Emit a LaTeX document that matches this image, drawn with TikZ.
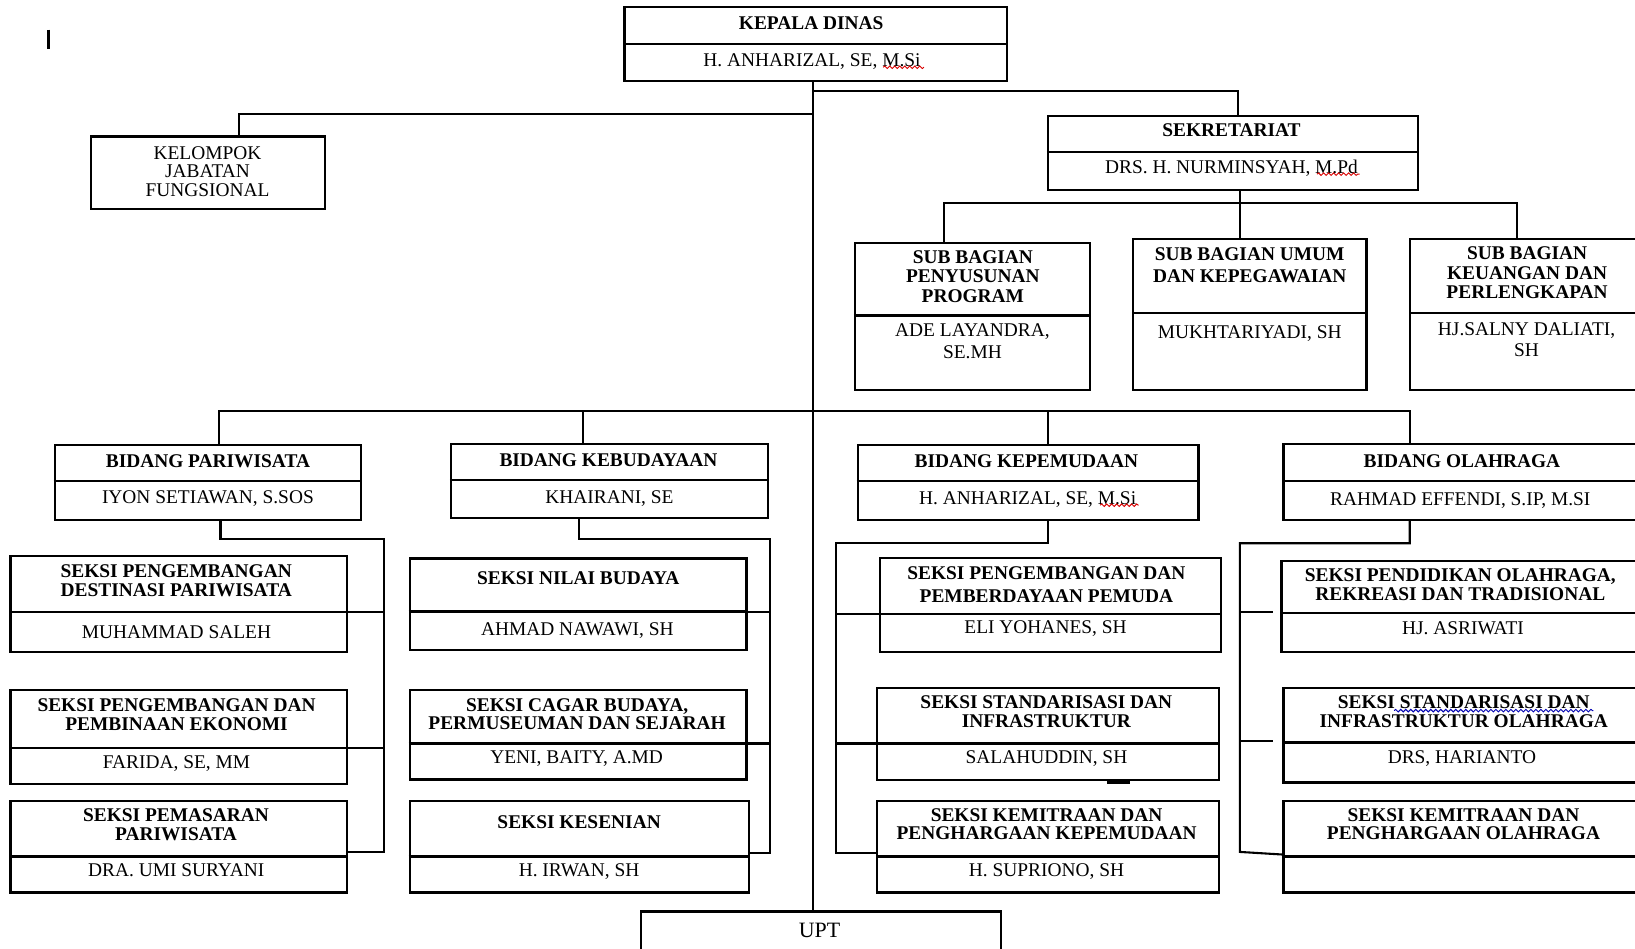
\documentclass[tikz,border=0pt]{standalone}
\usepackage{fontspec}
\setmainfont{Liberation Serif}
\usetikzlibrary{fit,calc,decorations.pathmorphing}
\begin{document}
\begin{tikzpicture}[x=0.5pt,y=-0.5pt,
  obox/.style={draw, line width=1.1pt, inner sep=0pt},
  div/.style={line width=1.1pt},
  conn/.style={line width=1pt},
  hdone/.style={font=\fontsize{9.3}{9}\selectfont\bfseries, inner sep=0pt, text height=6.2pt, text depth=0pt},
  hdmul/.style={font=\fontsize{9.3}{9}\selectfont\bfseries, align=center, inner sep=0pt},
  nmone/.style={font=\fontsize{9.3}{9}\selectfont, inner sep=0pt, text height=6.2pt, text depth=0pt},
  nmmul/.style={font=\fontsize{9.3}{9}\selectfont, align=center, inner sep=0pt},
  spell/.style={red!85!black, line width=0.45pt, decorate, decoration={snake, amplitude=0.6pt, segment length=2.4pt}},
  spellb/.style={blue!70!black, line width=0.45pt, decorate, decoration={snake, amplitude=0.6pt, segment length=2.4pt}},
]
\clip (0,0) rectangle (1568,910);
\fill[white] (0,0) rectangle (1568,910);

% ---------- boxes ----------
\node[obox, fit={(599,7) (966,78)}] (kd) {};
\node[obox, fit={(87,131) (312,200.5)}] (kjf) {};
\node[obox, fit={(1005,111) (1360,182)}] (sek) {};
\node[obox, fit={(820,233) (1045,374)}] (sbp) {};
\node[obox, fit={(1086.5,229.5) (1310.5,374)}] (sbu) {};
\node[obox, fit={(1352.5,229.5) (1578,374)}] (sbk) {};
\node[obox, fit={(52.5,427) (346.5,498.5)}] (bp) {};
\node[obox, fit={(432.5,425.5) (736.5,497)}] (bk) {};
\node[obox, fit={(822.5,426.5) (1149.5,498.5)}] (bkp) {};
\node[obox, fit={(1231,426) (1578,498.5)}] (bo) {};
\node[obox, fit={(10,533) (333,625)}] (sp1) {};
\node[obox, fit={(10,661.5) (333,752)}] (sp2) {};
\node[obox, fit={(10,768) (333,856)}] (sp3) {};
\node[obox, fit={(393,535.5) (716,623.5)}] (sk1) {};
\node[obox, fit={(393,661.5) (716,747.5)}] (sk2) {};
\node[obox, fit={(393,768) (718,856)}] (sk3) {};
\node[obox, fit={(844,535) (1171,625.5)}] (sm1) {};
\node[obox, fit={(841,660) (1169,748)}] (sm2) {};
\node[obox, fit={(841,768) (1169,856)}] (sm3) {};
\node[obox, fit={(1229,538) (1578,625.5)}] (so1) {};
\node[obox, fit={(1231,660) (1578,750.5)}] (so2) {};
\node[obox, fit={(1231,768) (1578,856)}] (so3) {};
\node[obox, fit={(615,874) (960,930)}] (upt) {};

% ---------- dividers ----------
\foreach \b/\y in {kd/42, sek/146, sbp/302.5, sbu/300, sbk/300, bp/461.5, bk/460.5, bkp/461.5, bo/461.5,
  sp1/587, sp2/717, sp3/821.5, sk1/586.5, sk2/713, sk3/821.5, sm1/588.5, sm2/713, sm3/821.5,
  so1/588, so2/712, so3/821.5}
  \draw[div] (\b.west |- 0,\y) -- (\b.east |- 0,\y);

% ---------- connectors ----------
\coordinate (trunk) at (780,0);
\draw[conn] (kd.south -| trunk) -- (upt.north -| trunk);
\coordinate (jsek) at (780,87);
\draw[conn] (jsek) -| ($(sek.north)+(4.5,0)$);
\coordinate (jkjf) at (780,109.5);
\draw[conn] (jkjf) -| ($(kjf.north)+(30,0)$);
% secretariat to sub-sections
\draw[conn] ($(sek.south)+(6.5,0)$) -- ($(sbu.north)+(-9.5,0)$);
\draw[conn] ($(sbp.north)+(-27.5,0)$) |- ($(sbk.north)+(-10.25,-33.5)$) -- ($(sbk.north)+(-10.25,0)$);
% bidang bar
\draw[conn] ($(bp.north)+(10.5,0)$) |- ($(bo.north)+(-52.5,-31)$) -- ($(bo.north)+(-52.5,0)$);
\draw[conn] ($(bk.north)+(-25.5,0)$) -- ++(0,-30.5);
\draw[conn] ($(bkp.north)+(19,0)$) -- ++(0,-31.5);
% pariwisata
\coordinate (vp) at (368,517);
\draw[conn] ($(bp.south)+(12,0)$) |- (vp) -- (vp |- 0,817) -- (sp3.east |- 0,817);
\draw[conn] (sp1.east |- 0,587) -- (vp |- 0,587);
\draw[conn] (sp2.east |- 0,717) -- (vp |- 0,717);
% kebudayaan
\coordinate (vk) at (738.5,517);
\draw[conn] ($(bk.south)+(-29,0)$) |- (vk) -- (vk |- 0,818) -- (sk3.east |- 0,818);
\draw[conn] (sk1.east |- 0,586.5) -- (vk |- 0,586.5);
\draw[conn] (sk2.east |- 0,713) -- (vk |- 0,713);
% kepemudaan
\coordinate (vm) at (802,521);
\draw[conn] ($(bkp.south)+(19,0)$) |- (vm) -- (vm |- 0,818) -- (sm3.west |- 0,818);
\draw[conn] (vm |- 0,588.5) -- (sm1.west |- 0,588.5);
\draw[conn] (vm |- 0,713) -- (sm2.west |- 0,713);
% olahraga
\coordinate (vo) at (1189,521);
\draw[conn] ($(bo.south)+(-52.5,0)$) |- (vo) -- (vo |- 0,817) -- (so3.west |- 0,819.5);
\draw[conn] (vo |- 0,586.5) -- ++(32,0);
\draw[conn] (vo |- 0,711) -- ++(32,0);

% ---------- texts ----------
\node[hdone] (kd-t) at (778,22.5) {KEPALA DINAS};
\node[nmone] (kd-n) at (778.7,58) {H. ANHARIZAL, SE, M.Si};
\node[nmmul, font=\fontsize{9.3}{9}\selectfont] (kjf-t) at (199,164.5) {KELOMPOK\\JABATAN\\FUNGSIONAL};
\node[hdone] (sek-t) at (1181,125) {SEKRETARIAT};
\node[nmone] (sek-n) at (1181,160) {DRS. H. NURMINSYAH, M.Pd};
\node[hdmul, font=\fontsize{9.3}{9.4}\selectfont\bfseries] (sbp-t) at (933,265) {SUB BAGIAN\\PENYUSUNAN\\PROGRAM};
\node[nmmul, font=\fontsize{9.3}{10.85}\selectfont] (sbp-n) at (932.6,327.3) {ADE LAYANDRA,\\SE.MH};
\node[hdmul, font=\fontsize{9.3}{10.85}\selectfont\bfseries] (sbu-t) at (1198.5,254.5) {SUB BAGIAN UMUM\\DAN KEPEGAWAIAN};
\node[nmone] (sbu-n) at (1198.5,318) {MUKHTARIYADI, SH};
\node[hdmul, font=\fontsize{9.3}{9.2}\selectfont\bfseries] (sbk-t) at (1464.5,261.5) {SUB BAGIAN\\KEUANGAN DAN\\PERLENGKAPAN};
\node[nmmul, font=\fontsize{9.3}{10.25}\selectfont] (sbk-n) at (1464,326) {HJ.SALNY DALIATI,\\SH};

\node[hdone] (bp-t) at (199.4,441.8) {BIDANG PARIWISATA};
\node[nmone] (bp-n) at (199.4,477) {IYON SETIAWAN, S.SOS};
\node[hdone] (bk-t) at (583.5,441.2) {BIDANG KEBUDAYAAN};
\node[nmone] (bk-n) at (584.5,476.3) {KHAIRANI, SE};
\node[hdone] (bkp-t) at (984.3,441.8) {BIDANG KEPEMUDAAN};
\node[nmone] (bkp-n) at (985.5,478) {H. ANHARIZAL, SE, M.Si};
\node[hdone] (bo-t) at (1402,441.8) {BIDANG OLAHRAGA};
\node[nmone] (bo-n) at (1400.5,478.7) {RAHMAD EFFENDI, S.IP, M.SI};

\node[hdmul] (sp1-t) at (169,556.7) {SEKSI PENGEMBANGAN\\DESTINASI PARIWISATA};
\node[nmone] (sp1-n) at (169.3,606) {MUHAMMAD SALEH};
\node[hdmul] (sp2-t) at (169.3,685.2) {SEKSI PENGEMBANGAN DAN\\PEMBINAAN EKONOMI};
\node[nmone] (sp2-n) at (169.3,731) {FARIDA, SE, MM};
\node[hdmul] (sp3-t) at (168.8,790.7) {SEKSI PEMASARAN\\PARIWISATA};
\node[nmone] (sp3-n) at (169,834.4) {DRA. UMI SURYANI};

\node[hdone] (sk1-t) at (554.5,554) {SEKSI NILAI BUDAYA};
\node[nmone] (sk1-n) at (553.7,603) {AHMAD NAWAWI, SH};
\node[hdmul] (sk2-t) at (553.5,685) {SEKSI CAGAR BUDAYA,\\PERMUSEUMAN DAN SEJARAH};
\node[nmone] (sk2-n) at (553,726.3) {YENI, BAITY, A.MD};
\node[hdone] (sk3-t) at (555.4,788) {SEKSI KESENIAN};
\node[nmone] (sk3-n) at (555.4,834.4) {H. IRWAN, SH};

\node[hdmul, font=\fontsize{9.3}{10.85}\selectfont\bfseries] (sm1-t) at (1003.5,560.7) {SEKSI PENGEMBANGAN DAN\\PEMBERDAYAAN PEMUDA};
\node[nmone] (sm1-n) at (1002.7,601) {ELI YOHANES, SH};
\node[hdmul] (sm2-t) at (1003.5,682.7) {SEKSI STANDARISASI DAN\\INFRASTRUKTUR};
\node[nmone] (sm2-n) at (1003.6,726.3) {SALAHUDDIN, SH};
\node[hdmul] (sm3-t) at (1003.7,790.4) {SEKSI KEMITRAAN DAN\\PENGHARGAAN KEPEMUDAAN};
\node[nmone] (sm3-n) at (1003.6,834.4) {H. SUPRIONO, SH};

\node[hdmul] (so1-t) at (1400.5,560.5) {SEKSI PENDIDIKAN OLAHRAGA,\\REKREASI DAN TRADISIONAL};
\node[nmone] (so1-n) at (1403,602) {HJ. ASRIWATI};
\node[hdmul] (so2-t) at (1403.8,682.7) {SEKSI STANDARISASI DAN\\INFRASTRUKTUR OLAHRAGA};
\node[nmone] (so2-n) at (1402,726.3) {DRS, HARIANTO};
\node[hdmul] (so3-t) at (1403.5,790.4) {SEKSI KEMITRAAN DAN\\PENGHARGAAN OLAHRAGA};

\node[nmone, font=\fontsize{10.5}{10}\selectfont, text height=7pt] (upt-t) at (786,892) {UPT};

% ---------- small marks ----------
\draw[line width=1pt] (46.5,28.5) -- (46.5,47);
\draw[line width=2pt] (1062,749.5) -- (1084,749.5);
\draw[spell] (847,64.5) -- (886,64.5);
\draw[spell] (1263,167) -- (1304,167);
\draw[spell] (1055,484.5) -- (1092,484.5);
\draw[spellb] (1337,681.5) -- (1528,681.5);
\end{tikzpicture}
\end{document}
